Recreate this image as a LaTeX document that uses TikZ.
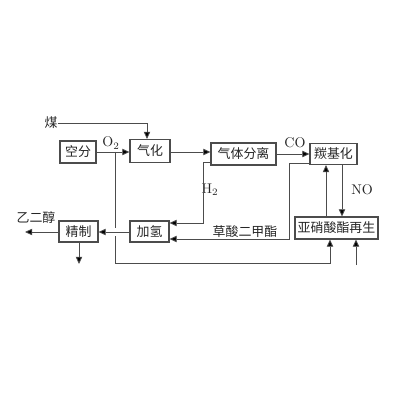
\documentclass[tikz,border=0pt]{standalone}
\usepackage{fontspec}
\newfontfamily\cjk{Noto Sans CJK SC}
\usetikzlibrary{arrows.meta,calc}
\begin{document}
\begin{tikzpicture}[x=0.025cm,y=-0.025cm,
  box/.style={draw=black!70,line width=0.75pt,rectangle,inner sep=0pt,font=\cjk\fontsize{9.2}{10}\selectfont,text=black!85},
  lbl/.style={inner sep=0pt,font=\fontsize{10}{11}\selectfont,text=black!85},
  clbl/.style={inner sep=0pt,font=\cjk\fontsize{9.2}{10}\selectfont,text=black!85},
  ln/.style={draw=black!70,line width=0.6pt},
  arr/.style={ln,-{Triangle[length=1.8mm,width=1.6mm,fill=black]}}]
\useasboundingbox (0,0) rectangle (400,400);
\fill[white] (0,0) rectangle (400,400);
% boxes
\node[box,minimum width=36*0.025cm,minimum height=22*0.025cm] (kf) at (78,152) {空分};
\node[box,minimum width=40*0.025cm,minimum height=23*0.025cm] (qh) at (150,151) {气化};
\node[box,minimum width=65*0.025cm,minimum height=22*0.025cm] (qt) at (243.5,154) {气体分离};
\node[box,minimum width=47*0.025cm,minimum height=21*0.025cm] (tj) at (333.5,154) {羰基化};
\node[box,minimum width=39*0.025cm,minimum height=21*0.025cm] (jz) at (78.5,231.5) {精制};
\node[box,minimum width=39*0.025cm,minimum height=21*0.025cm] (jq) at (149.5,231.5) {加氢};
\node[box,minimum width=83*0.025cm,minimum height=22*0.025cm] (yx) at (336.5,228) {亚硝酸酯再生};
% labels
\node[clbl] (mei) at (51,123) {煤};
\node[lbl] (o2) at (111,143) {O$_2$};
\node[lbl] (co) at (295,143) {CO};
\node[lbl] (h2) at (210,190) {H$_2$};
\node[lbl] (no) at (362,190) {NO};
\node[clbl] (cs) at (245,232) {草酸二甲酯};
\node[clbl] (yec) at (36,218) {乙二醇};
% coordinates
\coordinate (j1) at (115,152);
\coordinate (g1) at (115,228);
\coordinate (g2) at (115,236);
\coordinate (b1) at (115,263);
\coordinate (h2c) at (203,162);
\coordinate (csc) at (289,163);
\coordinate (outl) at (25,232);
\coordinate (outd) at (79,264);
\coordinate (inb) at (356,265);
% connectors
\draw[arr] (mei.east) -| ([xshift=-3*0.025cm]qh.north);
\draw[arr] (kf.east |- j1) -- (qh.west |- j1);
\draw[ln] (j1) -- (g1);
\draw[arr] (g2) -- (b1) -| ([xshift=-6.5*0.025cm]yx.south);
\draw[arr] (qh.east |- j1) -- (qt.west |- j1);
\draw[arr] (qt.east |- 0,154) -- (tj.west |- 0,154);
\draw[arr] (qt.west |- h2c) -- (h2c) |- (jq.east |- 0,223);
\draw[arr] (tj.west |- csc) -- (csc) |- (jq.east |- 0,239);
\draw[arr] (yx.north -| 326,0) -- (tj.south -| 326,0);
\draw[arr] (tj.south -| 342,0) -- (yx.north -| 342,0);
\draw[arr] (inb) -- (yx.south -| inb);
\draw[arr] (jq.west |- 0,232) -- (jz.east |- 0,232);
\draw[arr] (jz.west |- 0,232) -- (outl);
\draw[arr] (jz.south -| outd) -- (outd);
\end{tikzpicture}
\end{document}
